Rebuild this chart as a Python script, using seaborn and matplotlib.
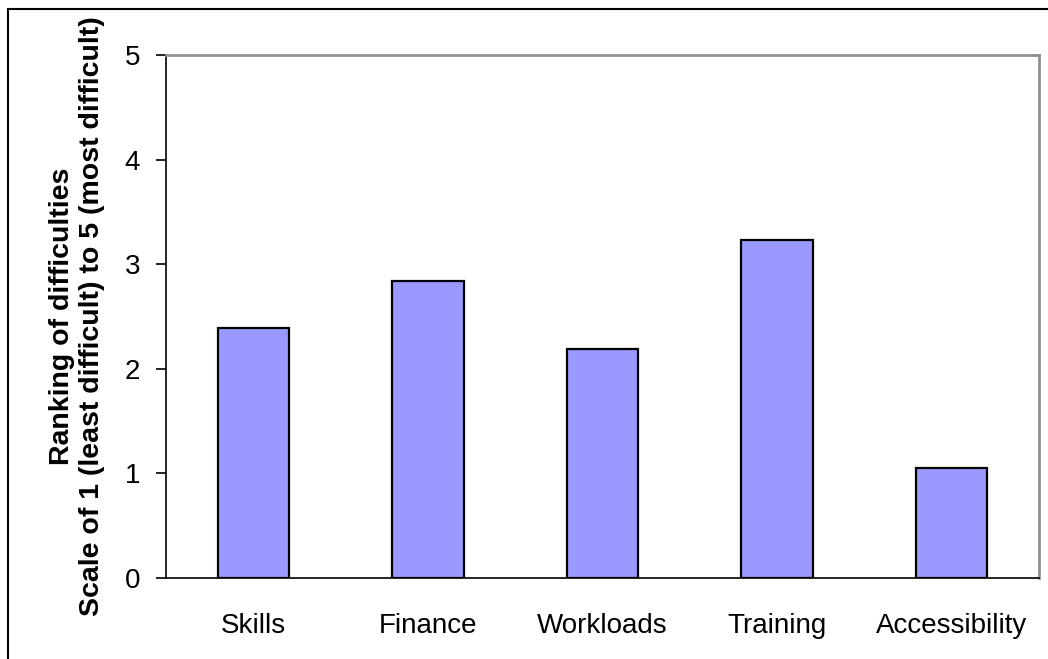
import numpy as np
import pandas as pd
import matplotlib
matplotlib.use('Agg')
import matplotlib.pyplot as plt
import seaborn as sns

# Data
categories = ['Skills', 'Finance', 'Workloads', 'Training', 'Accessibility']
scores = [2.39, 2.84, 2.19, 3.23, 1.05]

df = pd.DataFrame({'Difficulty': categories, 'Score': scores})

sns.set_style('white')
plt.rcParams['font.family'] = ['Liberation Sans', 'DejaVu Sans']
plt.rcParams['text.color'] = 'black'
plt.rcParams['xtick.color'] = 'black'
plt.rcParams['ytick.color'] = 'black'
plt.rcParams['axes.labelcolor'] = 'black'

fig = plt.figure(figsize=(10.48, 6.59), dpi=100)
ax = fig.add_axes([166 / 1048, 81 / 659, 873 / 1048, 523 / 659])

sns.barplot(data=df, x='Difficulty', y='Score', color='#9999FF',
            edgecolor='black', linewidth=1.6, width=0.41, saturation=1, ax=ax)

ax.set_xlim(-0.5, 4.5)
ax.set_ylim(0, 5)
ax.set_yticks(range(6))

# Excel-like axes: black left/bottom, grey top/right
for side in ['left', 'bottom']:
    ax.spines[side].set_color('black')
    ax.spines[side].set_linewidth(1.2)
for side in ['top', 'right']:
    ax.spines[side].set_color('#909090')
    ax.spines[side].set_linewidth(2)

# ticks between categories on the x axis
ax.set_xticks(np.arange(-0.5, 5.0, 1.0), minor=True)
ax.tick_params(axis='x', which='major', length=0, labelsize=20, pad=25)
ax.tick_params(axis='x', which='minor', length=8, width=1.2, direction='out', color='black')
ax.tick_params(axis='y', length=7.5, width=1.2, direction='out', color='black', labelsize=20, pad=11)
ax.tick_params(left=True, bottom=True)

ax.set_xlabel('')
ax.set_ylabel('Ranking of difficulties\nScale of 1 (least difficult) to 5 (most difficult)',
              fontsize=20.5, fontweight='bold', labelpad=14, linespacing=1.2)

# frame round the whole chart
fig.patches.append(plt.Rectangle((8 / 1048, -0.05), 1.1, (659 - 9) / 659 + 0.05,
                                 transform=fig.transFigure, fill=False,
                                 edgecolor='black', linewidth=1.5))

fig.savefig('out.png', dpi=100)
